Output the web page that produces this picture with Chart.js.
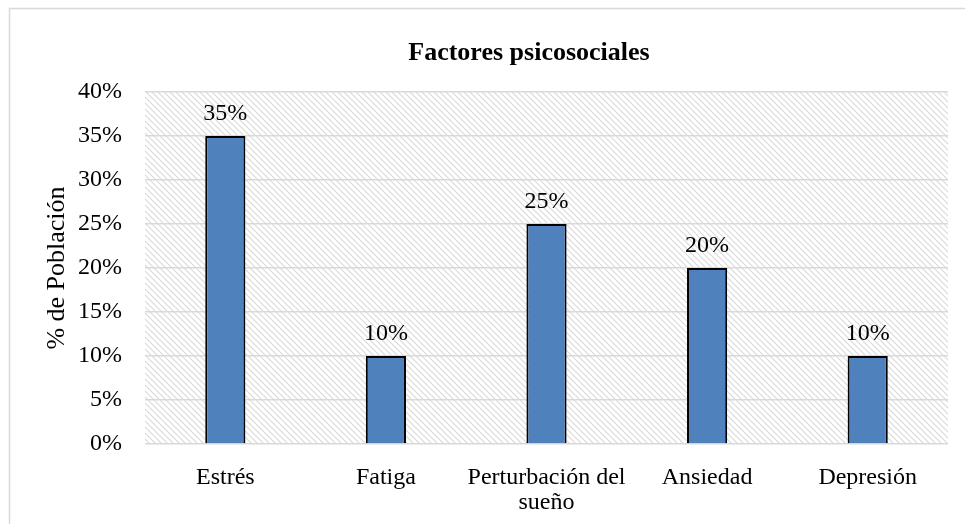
<!DOCTYPE html>
<html>
<head>
<meta charset="utf-8">
<script src="https://cdn.jsdelivr.net/npm/chart.js@4"></script>
<style>
  html, body { margin: 0; padding: 0; background: #fff; }
  #wrap { width: 965px; height: 524px; position: relative; }
</style>
</head>
<body>
<div id="wrap"><canvas id="chart" width="965" height="524"></canvas></div>
<script>
// Data
const categories = ['Estrés', 'Fatiga', ['Perturbación del', 'sueño'], 'Ansiedad', 'Depresión'];
const poblacion = [0.35, 0.10, 0.25, 0.20, 0.10];
const yTicks = [0, 0.05, 0.10, 0.15, 0.20, 0.25, 0.30, 0.35, 0.40];
const chartTitle = 'Factores psicosociales';

const serif = '"Liberation Serif", "Times New Roman", serif';
const pct = v => Math.round(v * 100) + '%';

// diagonal hatch used as the plot area background
function makeHatch() {
  const c = document.createElement('canvas');
  c.width = 6; c.height = 6;
  const g = c.getContext('2d');
  g.strokeStyle = '#d9d9d9';
  g.lineWidth = 1.1;
  g.beginPath();
  g.moveTo(-1, -1); g.lineTo(7, 7);
  g.moveTo(-1, 5); g.lineTo(1, 7);
  g.moveTo(5, -1); g.lineTo(7, 1);
  g.stroke();
  return c;
}

const backdrop = {
  id: 'backdrop',
  beforeDraw(chart) {
    const { ctx, chartArea: a } = chart;
    ctx.save();
    ctx.fillStyle = '#fff';
    ctx.fillRect(0, 0, chart.width, chart.height);
    // outer frame
    ctx.strokeStyle = '#d9d9d9';
    ctx.lineWidth = 1.5;
    ctx.strokeRect(9.5, 8.5, chart.width + 20, chart.height + 20);
    ctx.fillStyle = ctx.createPattern(makeHatch(), 'repeat');
    ctx.fillRect(a.left, a.top, a.right - a.left, a.bottom - a.top);
    // title sits a little right of the canvas centre, like the original
    ctx.font = 'bold 26px ' + serif;
    ctx.fillStyle = '#000';
    ctx.textAlign = 'center';
    ctx.textBaseline = 'middle';
    ctx.fillText(chartTitle, 529, 53);
    ctx.restore();
  }
};

const valueLabels = {
  id: 'valueLabels',
  afterDatasetsDraw(chart) {
    const { ctx } = chart;
    ctx.save();
    ctx.font = '24px ' + serif;
    ctx.fillStyle = '#000';
    ctx.textAlign = 'center';
    ctx.textBaseline = 'alphabetic';
    chart.getDatasetMeta(0).data.forEach((bar, i) => {
      ctx.fillText(pct(poblacion[i]), bar.x, bar.y - 16);
    });
    ctx.restore();
  }
};

new Chart(document.getElementById('chart'), {
  type: 'bar',
  data: {
    labels: categories,
    datasets: [{
      data: poblacion,
      backgroundColor: '#4f81bd',
      borderColor: '#000',
      borderWidth: 2,
      barPercentage: 0.25,
      categoryPercentage: 1
    }]
  },
  options: {
    responsive: false,
    animation: false,
    layout: { padding: { left: 40, right: 17, top: 92, bottom: 0 } },
    plugins: {
      legend: { display: false },
      tooltip: { enabled: false },
      title: { display: false }
    },
    scales: {
      x: {
        afterFit: s => { s.height = 80; },
        grid: { display: false },
        border: { display: false },
        ticks: { color: '#000', font: { family: serif, size: 24, lineHeight: 1.05 }, maxRotation: 0, autoSkip: false, padding: 13 }
      },
      y: {
        min: 0,
        max: 0.4,
        afterBuildTicks: s => { s.ticks = yTicks.map(v => ({ value: v })); },
        afterFit: s => { s.width = 105; },
        grid: { color: '#d9d9d9', lineWidth: 1.5, drawTicks: false },
        border: { display: false },
        ticks: { color: '#000', font: { family: serif, size: 24 }, padding: 23, callback: v => pct(v) },
        title: {
          display: true,
          text: '% de Población',
          color: '#000',
          font: { family: serif, size: 26 },
          padding: { top: 2, bottom: 0 }
        }
      }
    }
  },
  plugins: [backdrop, valueLabels]
});
</script>
</body>
</html>
